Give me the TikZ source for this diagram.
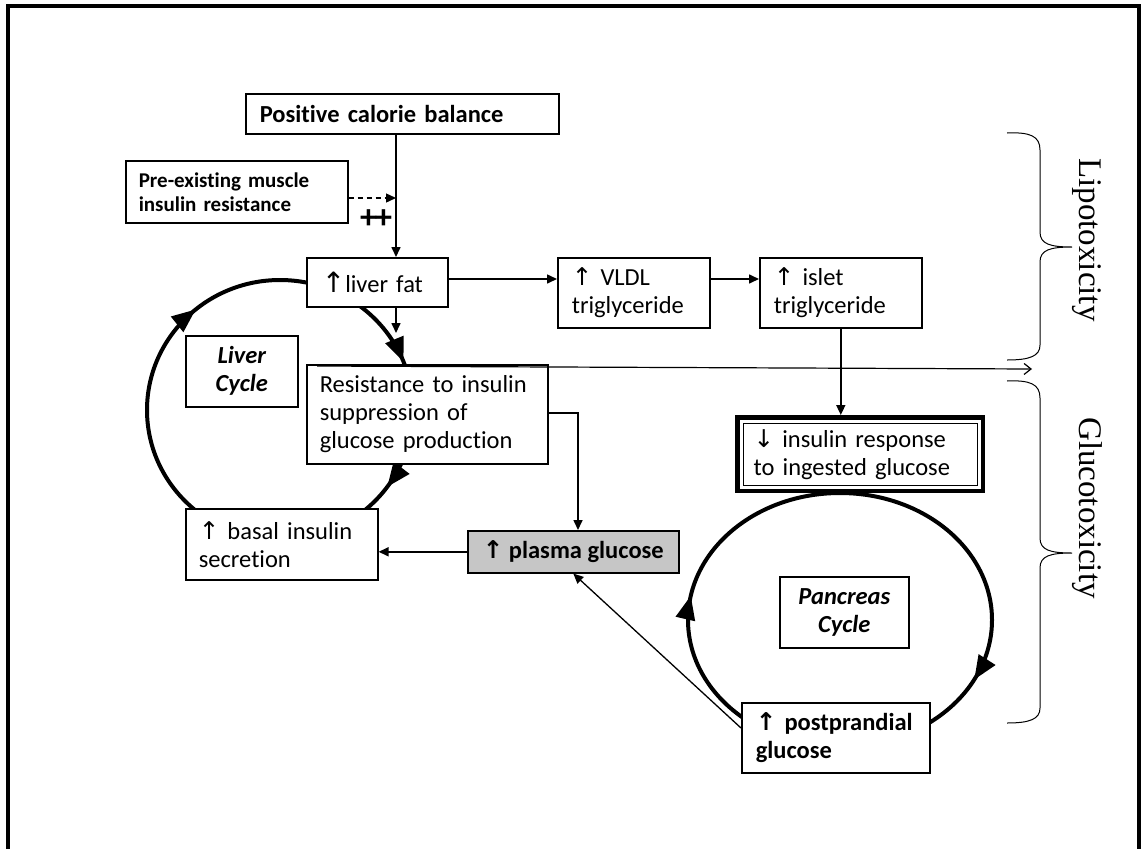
\documentclass[tikz,border=0pt]{standalone}
\usepackage{fontspec}
\setmainfont{Carlito}[Ligatures=NoCommon]
\newfontfamily\arrowfont{DejaVu Sans}
\newfontfamily\timesfont{Liberation Serif}
\usetikzlibrary{arrows.meta,decorations.markings}
\newcommand{\myup}{{\arrowfont ↑}}
\newcommand{\mydown}{{\arrowfont ↓}}
\tikzset{
  box/.style={draw=black, line width=1.6pt, fill=white, anchor=north west, align=left,
    inner xsep=13pt, inner ysep=0pt, font=\fontsize{24.5}{28}\selectfont},
  cyclebox/.style={box, align=center, font=\fontsize{24.5}{28}\selectfont\bfseries\itshape},
  conn/.style={line width=1.6pt, -{Triangle[length=10pt,width=9pt]}},
  cyc/.style={line width=4pt},
  bigtip/.tip={Triangle[length=24pt,width=19pt]},
  bracestyle/.style={line width=1pt},
  sidelabel/.style={font=\timesfont\fontsize{33}{33}\selectfont, rotate=-90}
}
\begin{document}
\begin{tikzpicture}[x=1pt,y=-1pt]
\useasboundingbox (0,0) rectangle (1141,849);
% frame
\draw[line width=4pt] (8,849) -- (8,6) -- (1139,6) -- (1139,849);

% cycles
\draw[cyc, postaction={decorate, decoration={markings,
    mark=at position 0.10 with {\arrow{bigtip}},
    mark=at position 0.64 with {\arrow{bigtip}},
    mark=at position 0.94 with {\arrow{bigtip}}}}]
  (280,410) ellipse [x radius=133, y radius=130];
\draw[cyc, postaction={decorate, decoration={markings,
    mark=at position 0.072 with {\arrow{bigtip}},
    mark=at position 0.528 with {\arrow{bigtip}}}}]
  (840,620) ellipse [x radius=152, y radius=127];

% boxes
\node[box, inner xsep=14pt, text width=285pt, minimum height=40pt, font=\fontsize{24.5}{28}\selectfont\bfseries] (pcb) at (245,93) {Positive calorie balance};
\node[box, text width=196pt, minimum height=62pt, font=\fontsize{21}{24}\selectfont\bfseries] (pre) at (125,160) {Pre-existing muscle\\insulin resistance};
\node[box, inner xsep=15pt, text width=111pt, minimum height=49pt] (lf) at (306,257) {{\fontsize{28}{28}\selectfont\arrowfont ↑}liver fat};
\node[box, inner xsep=14pt, text width=124pt, minimum height=70pt] (vldl) at (557,257) {\myup\ VLDL\\triglyceride};
\node[box, inner xsep=14pt, text width=134pt, minimum height=70pt] (islet) at (759,257) {\myup\ islet\\triglyceride};
\node[cyclebox, text width=86pt, minimum height=71pt] (lc) at (185,335) {Liver\\Cycle};
\node[box, text width=215pt, minimum height=99pt] (res) at (306,364) {Resistance to insulin\\suppression of\\glucose production};
\node[box, text width=166pt, minimum height=71pt] (bas) at (185,508) {\myup\ basal insulin\\secretion};
\node[box, fill=gray!45, align=center, inner xsep=0pt, minimum width=211pt, minimum height=42pt, font=\fontsize{24.5}{28}\selectfont\bfseries] (pg) at (467,530) {\myup\ plasma glucose};
\node[draw=black, fill=white, line width=4.5pt, anchor=north west, minimum width=245.5pt, minimum height=73.5pt, inner sep=0pt] (insout) at (735,415) {};
\node[box, line width=1.2pt, inner xsep=10pt, text width=214pt, minimum height=62pt] (ins) at (743,423) {\mydown\ insulin response\\to ingested glucose};
\node[cyclebox, text width=103pt, minimum height=71pt] (pc) at (779,576) {Pancreas\\Cycle};
\node[box, inner xsep=14pt, text width=160pt, minimum height=70pt, font=\fontsize{24.5}{28}\selectfont\bfseries] (pp) at (741,702) {\myup\ postprandial\\glucose};

% helper coordinates
\coordinate (jx) at (396,0);
\coordinate (dj) at (396,198);
\coordinate (yA) at (0,279);
\coordinate (lfend) at (396,333);
\coordinate (rx) at (578,413);
\coordinate (ppy) at (0,728);
\coordinate (lstart) at (317,366);
\coordinate (bj) at (1032,369);

% connectors
\draw[conn] (pcb.south -| jx) -- (lf.north -| jx);
\draw[line width=1.4pt, dash pattern=on 5pt off 4pt, -{Triangle[length=10pt,width=9pt]}] (pre.east |- dj) -- (dj);
\node[font=\fontsize{34}{34}\selectfont\bfseries, inner sep=0pt] (plus) at (376,219) {+\kern-2pt+};
\draw[conn] (lf.east |- yA) -- (vldl.west |- yA);
\draw[conn] (vldl.east |- yA) -- (islet.west |- yA);
\draw[conn] (islet.south) -- (insout.north -| islet.south);
\draw[conn] (lf.south -| jx) -- (lfend);
\draw[conn] (res.east |- rx) -| (pg.north -| rx);
\draw[conn] (pg.west) -- (pg.west -| bas.east);
\draw[line width=1.3pt, -{Triangle[length=10pt,width=9pt]}] (pp.west |- ppy) -- (pg.south);
\draw[line width=1.2pt, -{Straight Barb[length=7pt,width=11pt]}] (lstart) -- (bj);

% braces
\draw[bracestyle] (1007,133) .. controls (1030,132) and (1040,136) .. (1040,150)
  -- (1040,232) .. controls (1040,244) and (1050,247) .. (1072,247)
  .. controls (1050,247) and (1040,250) .. (1040,262)
  -- (1040,345) .. controls (1040,356) and (1030,360) .. (1007,360);
\draw[bracestyle] (1007,381) .. controls (1030,380) and (1040,384) .. (1040,398)
  -- (1040,538) .. controls (1040,550) and (1050,553) .. (1072,553)
  .. controls (1050,553) and (1040,556) .. (1040,568)
  -- (1040,708) .. controls (1040,719) and (1030,723) .. (1007,723);
\node[sidelabel] (lipo) at (1087,240) {Lipotoxicity};
\node[sidelabel] (gluco) at (1087,508) {Glucotoxicity};
\end{tikzpicture}
\end{document}
